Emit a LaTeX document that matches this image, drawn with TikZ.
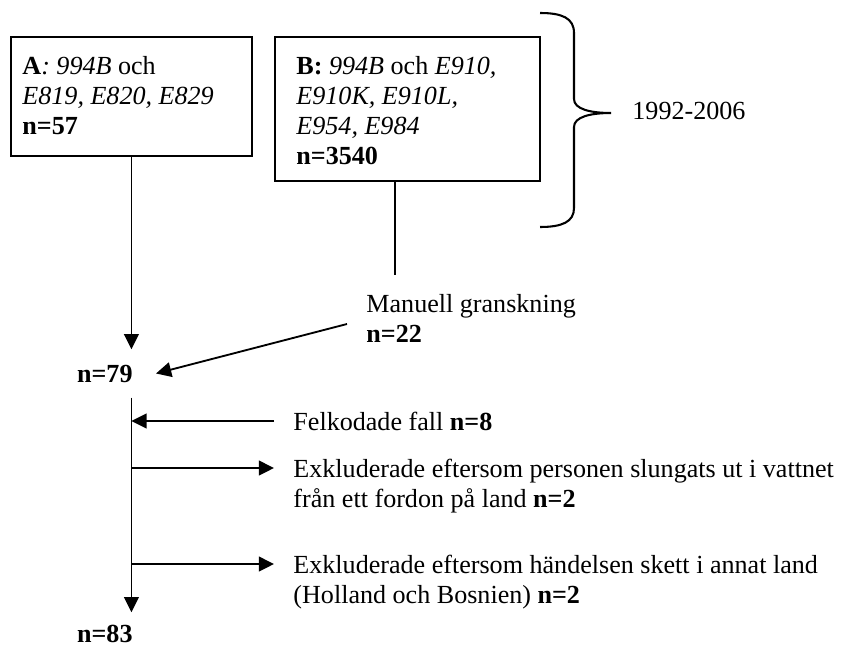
\documentclass[tikz,border=0pt]{standalone}
\usepackage{fontspec}
\setmainfont{Liberation Serif}
\usetikzlibrary{arrows.meta}
\begin{document}
\begin{tikzpicture}[x=0.46pt,y=-0.46pt,
  every node/.style={font=\fontsize{12}{13.8}\selectfont, inner sep=0pt},
  boxnode/.style={draw, line width=0.85pt, anchor=north west},
  txt/.style={anchor=base west},
  conn/.style={line width=0.85pt},
  arr/.style={line width=0.85pt, -{Triangle[length=7pt,width=6.8pt]}},
  bracepath/.style={line width=0.95pt}]
\useasboundingbox (0,0) rectangle (850,648);
% boxes
\node[boxnode, minimum width=241*0.46pt, minimum height=119*0.46pt] (A) at (10,36) {};
\node[boxnode, minimum width=265*0.46pt, minimum height=144*0.46pt] (B) at (274,36) {};
\node[txt] (At) at (22,75) {\begin{tabular}[t]{@{}l@{}}\textbf{A}\textit{: 994B} och\\ \textit{E819, E820, E829}\\ \textbf{n=57}\end{tabular}};
\node[txt] (Bt) at (296,75) {\begin{tabular}[t]{@{}l@{}}\textbf{B:} \textit{994B} och \textit{E910,}\\ \textit{E910K, E910L,}\\ \textit{E954, E984}\\ \textbf{n=3540}\end{tabular}};
% brace
\draw[bracepath] (540,13) .. controls (562,13) and (574,18) .. (574,33) -- (574,99)
  .. controls (574,109) and (590,113) .. (611,113)
  .. controls (590,113) and (574,117) .. (574,127) -- (574,208)
  .. controls (574,222) and (562,227) .. (540,227);
\node[txt] (yr) at (632,119) {1992-2006};
% manual review
\node[txt] (M) at (366,312) {\begin{tabular}[t]{@{}l@{}}Manuell granskning\\ \textbf{n=22}\end{tabular}};
\coordinate (bline) at (395,275);
\draw[conn] (bline |- B.south) -- (bline);
% counts
\node[anchor=base east, inner xsep=23*0.46pt, inner ysep=15*0.46pt] (n79) at (156,382) {\textbf{n=79}};
\node[anchor=base east, inner xsep=23*0.46pt, inner ysep=12*0.46pt] (n83) at (156,642) {\textbf{n=83}};
\draw[arr] (A.south) -- (A.south |- n79.north);
\coordinate (mstart) at (347,324);
\draw[arr] (mstart) -- (n79.east);
\draw[arr] (n79.south -| A.south) -- (n83.north -| A.south);
% side flows
\coordinate (f1) at (274,421);
\coordinate (e1) at (274,468);
\coordinate (e2) at (274,564);
\draw[arr] (f1) -- (f1 -| A.south);
\draw[arr] (e1 -| A.south) -- (e1);
\draw[arr] (e2 -| A.south) -- (e2);
\node[txt] (F) at (293,430) {Felkodade fall \textbf{n=8}};
\node[txt] (E1) at (293,477) {\begin{tabular}[t]{@{}l@{}}Exkluderade eftersom personen slungats ut i vattnet\\ från ett fordon på land \textbf{n=2}\end{tabular}};
\node[txt] (E2) at (293,573) {\begin{tabular}[t]{@{}l@{}}Exkluderade eftersom händelsen skett i annat land\\ (Holland och Bosnien) \textbf{n=2}\end{tabular}};
\end{tikzpicture}
\end{document}
